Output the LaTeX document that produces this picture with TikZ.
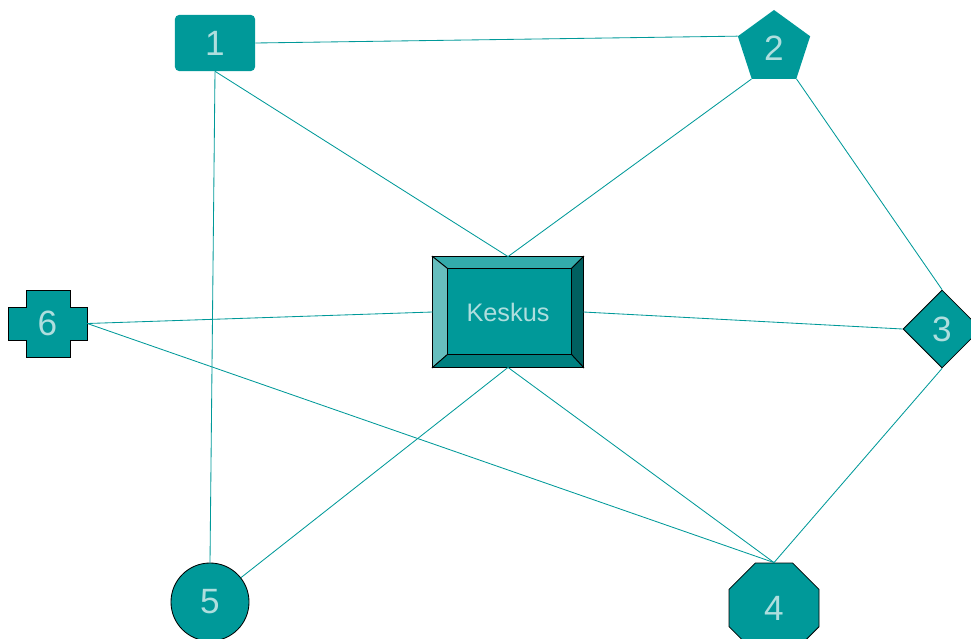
\documentclass[tikz,border=0pt]{standalone}
\usepackage{fontspec}
\setmainfont{Liberation Sans}
\usetikzlibrary{shapes.geometric,calc}
\definecolor{netfill}{RGB}{0,153,153}
\definecolor{netlabel}{RGB}{175,222,222}
\definecolor{bevtop}{RGB}{51,172,172}
\definecolor{bevleft}{RGB}{102,190,190}
\definecolor{bevright}{RGB}{0,96,96}
\definecolor{bevbottom}{RGB}{0,128,128}

\begin{document}
\begin{tikzpicture}[x=0.025cm,y=-0.025cm,
  site/.style={fill=netfill,text=netlabel,inner sep=0pt,font=\fontsize{25}{30}\selectfont},
  link/.style={draw=netfill,line width=0.6pt}]

\useasboundingbox (0,0) rectangle (971,638);

\node (n1) at (215,43) [site,rectangle,rounded corners=0.1cm,minimum width=2cm,minimum height=1.4cm] {1};
\node (n2) at (774,48) [site,regular polygon,regular polygon sides=5,minimum size=1.9cm] {2};
\node (n3) at (942,329) [site,diamond,draw=black,line width=0.6pt,minimum size=1.95cm] {3};
\node (n4) at (774,608) [site,regular polygon,regular polygon sides=8,draw=black,line width=0.6pt,minimum size=2.435cm] {4};
\node (n5) at (210,602) [site,circle,draw=black,line width=0.6pt,minimum size=1.95cm] {5};

\draw[fill=netfill,line width=0.6pt]
  (26,290) -- (70,290) -- (70,307) -- (87,307) -- (87,340) -- (70,340) --
  (70,357) -- (26,357) -- (26,340) -- (8,340) -- (8,307) -- (26,307) -- cycle;
\node (n6) at (47.5,323.5) [text=netlabel,inner sep=0pt,font=\fontsize{25}{30}\selectfont,
  minimum width=1.975cm,minimum height=1.675cm] {6};

\node (hub) at (508,312) [draw=black,line width=0.6pt,fill=netfill,text=netlabel,
  font=\fontsize{18}{22}\selectfont,minimum width=3.75cm,minimum height=2.75cm] {Keskus};
\coordinate (inw) at ($(hub.north west)+(15,12)$);
\coordinate (ine) at ($(hub.north east)+(-12,12)$);
\coordinate (ise) at ($(hub.south east)+(-12,-13)$);
\coordinate (isw) at ($(hub.south west)+(15,-13)$);
\draw[fill=bevtop,line width=0.6pt] (hub.north west) -- (hub.north east) -- (ine) -- (inw) -- cycle;
\draw[fill=bevleft,line width=0.6pt] (hub.north west) -- (inw) -- (isw) -- (hub.south west) -- cycle;
\draw[fill=bevright,line width=0.6pt] (hub.north east) -- (hub.south east) -- (ise) -- (ine) -- cycle;
\draw[fill=bevbottom,line width=0.6pt] (hub.south west) -- (hub.south east) -- (ise) -- (isw) -- cycle;

\draw[link] (n1.east) -- (n2.corner 2);
\draw[link] (n1.south) -- (hub.north);
\draw[link] (n1.south) -- (n5.north);
\draw[link] (n2.corner 3) -- (hub.north);
\draw[link] (n2.corner 4) -- (n3.north);
\draw[link] (n6.east) -- (hub.west);
\draw[link] (hub.east) -- (n3.west);
\draw[link] (n6.east) -- (n4.north);
\draw[link] (hub.south) -- (n5);
\draw[link] (hub.south) -- (n4.north);
\draw[link] (n3.south) -- (n4.north);

\end{tikzpicture}
\end{document}
